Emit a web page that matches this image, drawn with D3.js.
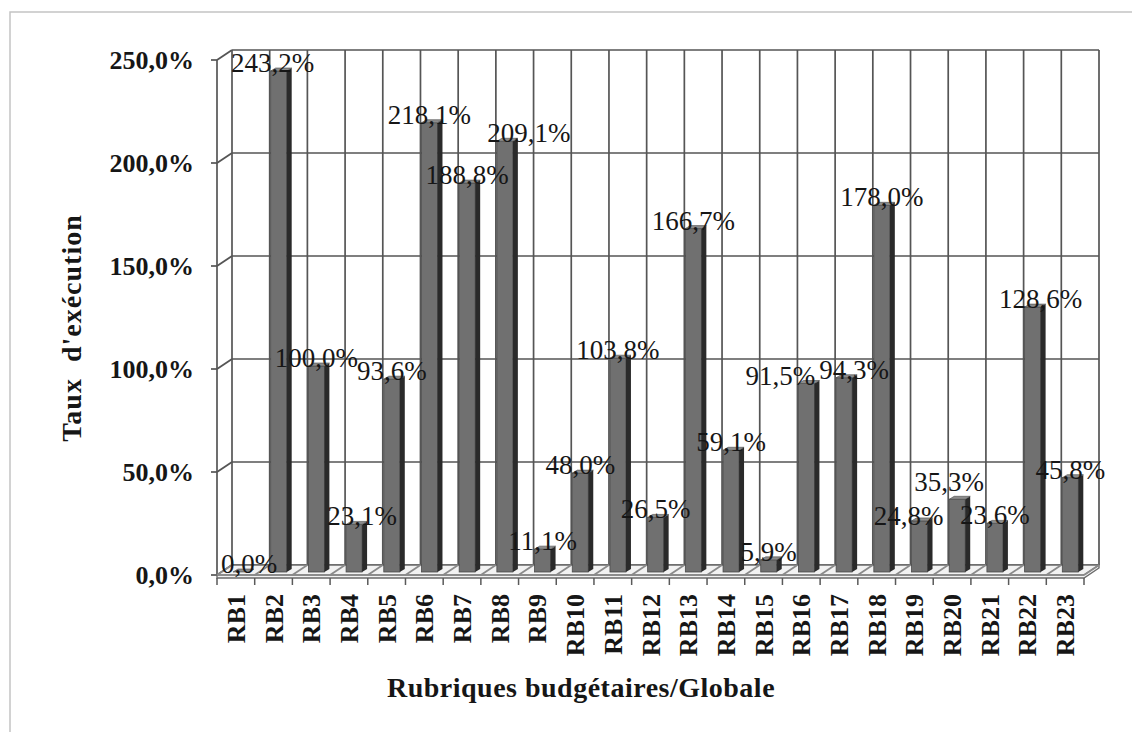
<!DOCTYPE html>
<html>
<head>
<meta charset="utf-8">
<script src="https://cdn.jsdelivr.net/npm/d3@7"></script>
<style>
  body { margin: 0; background: #fff; }
  text { font-family: "Liberation Serif", "Times New Roman", serif; fill: #161616; }
</style>
</head>
<body>
<div id="chart"></div>
<script>
// Data
var categories = ["RB1", "RB2", "RB3", "RB4", "RB5", "RB6", "RB7", "RB8", "RB9", "RB10", "RB11", "RB12",
  "RB13", "RB14", "RB15", "RB16", "RB17", "RB18", "RB19", "RB20", "RB21", "RB22", "RB23"];
var values = [0.0, 243.2, 100.0, 23.1, 93.6, 218.1, 188.8, 209.1, 11.1, 48.0, 103.8, 26.5,
  166.7, 59.1, 5.9, 91.5, 94.3, 178.0, 24.8, 35.3, 23.6, 128.6, 45.8];
var yTicks = [0, 50, 100, 150, 200, 250];

// small [dx, dy] nudges of some data labels, so they don't collide (as in the original)
var labelNudge = {
  RB1: [8, 0], RB2: [-6, 0], RB4: [8, 0], RB8: [24, 0], RB16: [-26, 0],
  RB17: [10, 0], RB19: [-11, 3], RB20: [-8, -9], RB22: [8, 0]
};

var svgWidth = 1132;
var svgHeight = 732;

var svg = d3.select("#chart")
  .append("svg")
  .attr("width", svgWidth)
  .attr("height", svgHeight);

// outer frame (only top and left visible)
svg.append("path")
  .attr("d", "M10,732 V12 H1132")
  .attr("fill", "none")
  .attr("stroke", "#c4c4c4")
  .attr("stroke-width", 1.5);

var x = d3.scaleBand().domain(categories).range([217, 1084]);
var y = d3.scaleLinear().domain([0, 250]).range([575, 60]);
var bw = x.bandwidth();
var dx = 15, dy = -10;          // depth of the 3D box
var fmt = function(v) { return d3.format(".1f")(v).replace(".", ",") + "%"; };

var gridColor = "#555";
var grid = svg.append("g").attr("stroke", gridColor).attr("stroke-width", 1.7).attr("fill", "none");

// back wall horizontal lines + left wall diagonals + ticks
yTicks.forEach(function(t) {
  grid.append("line")
    .attr("x1", 217 + dx).attr("x2", 1084 + dx)
    .attr("y1", y(t) + dy).attr("y2", y(t) + dy);
  grid.append("line")
    .attr("x1", 217).attr("x2", 217 + dx)
    .attr("y1", y(t)).attr("y2", y(t) + dy);
  grid.append("line")
    .attr("x1", 211).attr("x2", 217)
    .attr("y1", y(t)).attr("y2", y(t));
});

// back wall vertical lines
var bounds = d3.range(categories.length + 1).map(function(i) { return 217 + i * bw; });
bounds.forEach(function(b) {
  grid.append("line")
    .attr("x1", b + dx).attr("x2", b + dx)
    .attr("y1", y(0) + dy).attr("y2", y(250) + dy);
});

// left wall front edge
grid.append("line")
  .attr("x1", 217).attr("x2", 217)
  .attr("y1", y(0)).attr("y2", y(250));

// floor
var floor = svg.append("g");
floor.append("path")
  .attr("d", "M217," + (y(0) + 3) + " L1084," + (y(0) + 3) + " L" + (1084 + dx) + "," + (y(0) + dy + 3) +
    " L" + (1084 + dx) + "," + (y(0) + dy) + " L" + (217 + dx) + "," + (y(0) + dy) + " L217," + y(0) + " Z")
  .attr("fill", "#f2f2f2")
  .attr("stroke", "#6a6a6a")
  .attr("stroke-width", 1.4);
floor.append("line")
  .attr("x1", 217).attr("x2", 1084)
  .attr("y1", y(0)).attr("y2", y(0))
  .attr("stroke", "#6a6a6a").attr("stroke-width", 1.4);
floor.append("line")
  .attr("x1", 1084).attr("x2", 1084 + dx)
  .attr("y1", y(0)).attr("y2", y(0) + dy)
  .attr("stroke", "#6a6a6a").attr("stroke-width", 1.4);
bounds.forEach(function(b) {
  floor.append("line")
    .attr("x1", b).attr("x2", b + dx)
    .attr("y1", y(0)).attr("y2", y(0) + dy)
    .attr("stroke", "#8a8a8a").attr("stroke-width", 1.8);
  floor.append("line")
    .attr("x1", b).attr("x2", b)
    .attr("y1", y(0) + 3).attr("y2", y(0) + 10)
    .attr("stroke", "#5a5a5a").attr("stroke-width", 1.5);
});

// bars
var bx = function(c) { return x(c) + 16; };
var w = 16, sx = 5, sy = -3;
var base = y(0) - 3;
var bars = svg.append("g").selectAll("g")
  .data(categories)
  .enter()
  .append("g");

bars.append("rect")
  .attr("x", function(c) { return bx(c); })
  .attr("y", function(c, i) { return y(values[i]) - 3; })
  .attr("width", w)
  .attr("height", function(c, i) { return base - (y(values[i]) - 3); })
  .attr("fill", "#707070")
  .attr("stroke", "#4a4a4a")
  .attr("stroke-width", 0.8);

bars.append("path")
  .attr("d", function(c, i) {
    var t = y(values[i]) - 3, r = bx(c) + w;
    return "M" + r + "," + t + " L" + (r + sx) + "," + (t + sy) + " L" + (r + sx) + "," + (base + sy) + " L" + r + "," + base + " Z";
  })
  .attr("fill", "#2a2a2a");

bars.append("path")
  .attr("d", function(c, i) {
    var t = y(values[i]) - 3, l = bx(c);
    return "M" + l + "," + t + " L" + (l + w) + "," + t + " L" + (l + w + sx) + "," + (t + sy) + " L" + (l + sx) + "," + (t + sy) + " Z";
  })
  .attr("fill", "#8c8c8c")
  .attr("stroke", "#4a4a4a")
  .attr("stroke-width", 0.6);

// data labels
svg.append("g").selectAll("text")
  .data(categories)
  .enter()
  .append("text")
  .attr("x", function(c) { return bx(c) + w / 2 + (labelNudge[c] ? labelNudge[c][0] : 0); })
  .attr("y", function(c, i) { return y(values[i]) - 2 + (labelNudge[c] ? labelNudge[c][1] : 0); })
  .attr("text-anchor", "middle")
  .style("font-size", "27px")
  .text(function(c, i) { return fmt(values[i]); });

// y tick labels
svg.append("g").selectAll("text")
  .data(yTicks)
  .enter()
  .append("text")
  .attr("x", 194)
  .attr("y", function(t) { return y(t) + 9; })
  .attr("text-anchor", "end")
  .style("font-size", "26px")
  .style("font-weight", "bold")
  .text(function(t) { return fmt(t); });

// category labels
svg.append("g").selectAll("text")
  .data(categories)
  .enter()
  .append("text")
  .attr("transform", function(c) { return "translate(" + (x(c) + bw / 2 + 9) + ",594) rotate(-90)"; })
  .attr("text-anchor", "end")
  .style("font-size", "26px")
  .style("font-weight", "bold")
  .text(function(c) { return c; });

// axis titles
svg.append("text")
  .attr("transform", "translate(81,328) rotate(-90)")
  .attr("text-anchor", "middle")
  .style("font-size", "28px")
  .style("font-weight", "bold")
  .style("letter-spacing", "1px")
  .style("white-space", "pre")
  .text("Taux  d'exécution");

svg.append("text")
  .attr("x", 581)
  .attr("y", 697)
  .attr("text-anchor", "middle")
  .style("font-size", "28px")
  .style("font-weight", "bold")
  .style("letter-spacing", "0.5px")
  .text("Rubriques budgétaires/Globale");
</script>
</body>
</html>
